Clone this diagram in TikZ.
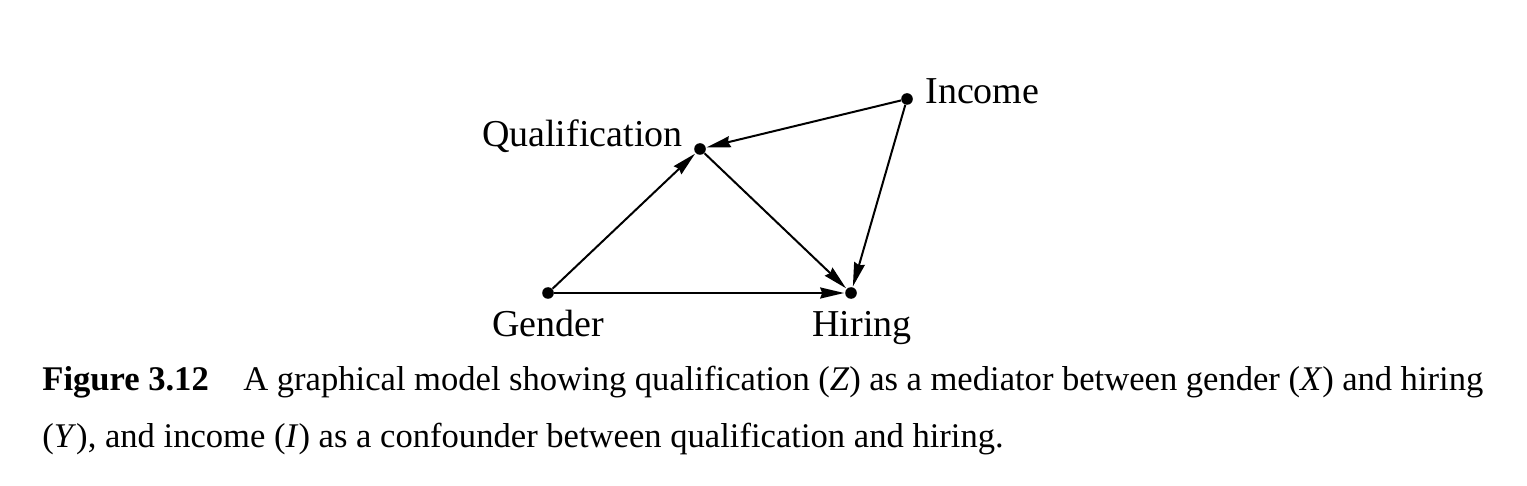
\documentclass[tikz,border=0pt]{standalone}
\usepackage{fontspec}
\setmainfont{Liberation Serif}
\usetikzlibrary{arrows.meta}
\begin{document}
\begin{tikzpicture}[x=0.5pt,y=-0.5pt,
  dot/.style={circle,fill=black,inner sep=0pt,minimum size=5.8pt},
  lab/.style={inner sep=0pt,font=\fontsize{19}{22}\selectfont},
  captext/.style={inner sep=0pt,font=\fontsize{17.3}{21}\selectfont},
  arr/.style={line width=1pt,-{Stealth[length=12pt,width=5.5pt,inset=1pt]},shorten >=0.3pt}]
\useasboundingbox (0,0) rectangle (1527,486);
\node[dot] (Q) at (700,149) {};
\node[dot] (I) at (907,99) {};
\node[dot] (G) at (548,293) {};
\node[dot] (H) at (851,293) {};
\node[lab,anchor=base east] (Ql) at (683,147) {Qualification};
\node[lab,anchor=base west] (Il) at (925,104) {Income};
\node[lab,anchor=base] (Gl) at (548,336) {Gender};
\node[lab,anchor=base] (Hl) at (862,336) {Hiring};
\draw[arr] (G) -- (Q);
\draw[arr] (G) -- (H);
\draw[arr] (Q) -- (H);
\draw[arr] (I) -- (Q);
\draw[arr] (I) -- (H);
\node[captext,anchor=base west] (c1) at (42,391) {\makebox[720.5pt][s]{\textbf{Figure 3.12}\quad A graphical model showing qualification (\textit{Z}) as a mediator between gender (\textit{X}) and hiring}};
\node[captext,anchor=base west] (c2) at (42,447) {(\textit{Y}), and income (\textit{I}) as a confounder between qualification and hiring.};
\end{tikzpicture}
\end{document}
